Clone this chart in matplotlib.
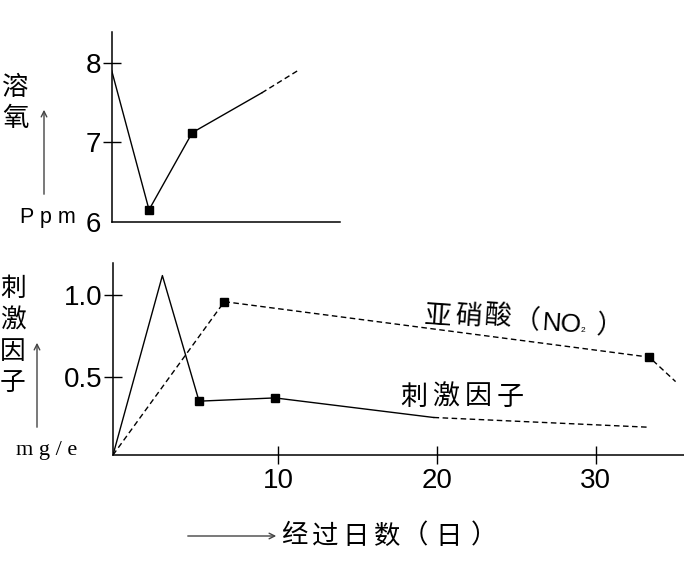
import matplotlib
matplotlib.use("Agg")
import matplotlib.pyplot as plt

plt.rcParams['font.family'] = ['Liberation Sans', 'Noto Sans CJK SC', 'DejaVu Sans']

# ---------------- data ----------------
# dissolved oxygen (ppm), top panel
do_days = [-0.47, 1.88, 4.60, 8.97, 11.24]
do_vals = [7.90, 6.15, 7.12, 7.62, 7.90]
do_solid_n = 4            # first points joined by solid line, rest dashed
do_marker_idx = [1, 2]

# stimulus factor (mg/e), bottom panel
stim_days = [-0.39, 2.72, 5.03, 9.81, 19.8, 33.4]
stim_vals = [0.02, 1.12, 0.35, 0.37, 0.25, 0.19]
stim_solid_n = 5
stim_marker_idx = [2, 3]

# nitrite NO2, bottom panel (all dashed)
no2_days = [-0.39, 6.62, 33.38, 35.04]
no2_vals = [0.02, 0.96, 0.62, 0.47]
no2_marker_idx = [1, 2]

top_yticks = [6, 7, 8]
bot_yticks = [0.5, 1.0]
bot_yticklabels = ['0.5', '1.0']
bot_xticks = [10, 20, 30]

W, H = 684, 570
fig = plt.figure(figsize=(W / 100, H / 100), dpi=100)


def px(x, y):
    return (x / W, 1 - y / H)


def ax_rect(x0, y_top, x1, y_bot):
    return [x0 / W, 1 - y_bot / H, (x1 - x0) / W, (y_bot - y_top) / H]


LW = 1.0
DASH = (0, (4, 2.5))
CJK = ['Noto Sans CJK SC', 'DejaVu Sans']


def style(ax):
    for s in ['top', 'right']:
        ax.spines[s].set_visible(False)
    for s in ['left', 'bottom']:
        ax.spines[s].set_linewidth(1.1)
        ax.spines[s].set_color('black')
    ax.tick_params(direction='inout', length=13, width=1.0, labelsize=20,
                   color='black')
    ax.tick_params(axis='y', pad=1)
    ax.tick_params(axis='x', pad=3)


# ---------- top panel ----------
ax1 = fig.add_axes(ax_rect(111.7, 31.7, 340, 221.7))
style(ax1)
ax1.set_xlim(-0.47, 13.9)
ax1.set_ylim(6.0, 8.39)
ax1.plot(do_days[:do_solid_n], do_vals[:do_solid_n], color='black', lw=LW)
ax1.plot(do_days[do_solid_n - 1:], do_vals[do_solid_n - 1:], color='black',
         lw=LW, linestyle=DASH)
ax1.plot([do_days[i] for i in do_marker_idx], [do_vals[i] for i in do_marker_idx],
         linestyle='none', marker='s', ms=5.5, color='black')
ax1.set_yticks(top_yticks)
ax1.set_yticklabels([str(v) for v in top_yticks])
ax1.set_xticks([])
ax1.yaxis.get_major_ticks()[0].tick1line.set_visible(False)

# ---------- bottom panel ----------
ax2 = fig.add_axes(ax_rect(113, 263, 684, 455))
style(ax2)
ax2.set_xlim(-0.39, 35.57)
ax2.set_ylim(0.02, 1.197)
ax2.plot(stim_days[:stim_solid_n], stim_vals[:stim_solid_n], color='black', lw=LW)
ax2.plot(stim_days[stim_solid_n - 1:], stim_vals[stim_solid_n - 1:], color='black',
         lw=LW, linestyle=DASH)
ax2.plot([stim_days[i] for i in stim_marker_idx], [stim_vals[i] for i in stim_marker_idx],
         linestyle='none', marker='s', ms=5.5, color='black')
ax2.plot(no2_days, no2_vals, color='black', lw=LW, linestyle=DASH)
ax2.plot([no2_days[i] for i in no2_marker_idx], [no2_vals[i] for i in no2_marker_idx],
         linestyle='none', marker='s', ms=5.5, color='black')
ax2.set_yticks(bot_yticks)
ax2.set_yticklabels(bot_yticklabels)
ax2.set_xticks(bot_xticks)
ax2.set_xticklabels([str(v) for v in bot_xticks])


# ---------- annotations ----------
def chars(x0, y, s, pitch, size, **kw):
    for i, c in enumerate(s):
        fig.text(*px(x0 + i * pitch, y), c, ha='center', va='center',
                 fontsize=size, family=CJK, **kw)


def vchars(x, y0, s, pitch, size):
    for i, c in enumerate(s):
        fig.text(*px(x, y0 + i * pitch), c, ha='center', va='center',
                 fontsize=size, family=CJK)


def arrow(x0, y0, x1, y1):
    fig.patches.append(matplotlib.patches.FancyArrowPatch(
        px(x0, y0), px(x1, y1), transform=fig.transFigure,
        arrowstyle='->,head_length=4,head_width=2', color='#444444', lw=1.0,
        mutation_scale=1))


# top-left: 溶氧 / Ppm
vchars(15.5, 87.5, '溶氧', 31.5, 19)
arrow(44, 197, 44, 107)
fig.text(*px(48, 217), 'P p m', ha='center', va='center', fontsize=15.5,
         family=['Liberation Sans'])

# bottom-left: 刺激因子 / mg/e
vchars(13, 289, '刺激因子', 31.3, 18.5)
arrow(37, 430, 37, 340)
fig.text(*px(47, 451), 'm g / e', ha='center', va='center', fontsize=16,
         family=['Liberation Serif'])

# series labels
chars(438, 316, '亚硝酸', 30, 19.5, rotation=-4)
fig.text(*px(527, 322), '（', ha='center', va='center', fontsize=19,
         family=CJK, rotation=-4)
fig.text(*px(562, 324), 'NO', ha='center', va='center', fontsize=19,
         family=['Liberation Sans'], rotation=-4)
fig.text(*px(583, 331), '2', ha='center', va='center', fontsize=6,
         family=['Liberation Sans'])
fig.text(*px(610, 327), '）', ha='center', va='center', fontsize=19,
         family=CJK, rotation=-4)
chars(414, 397, '刺激因子', 32, 19.5)

# x axis label with arrow
arrow(185, 536, 279, 536)
chars(294, 536, '经过日数', 31, 19)
fig.text(*px(415, 536), '（', ha='center', va='center', fontsize=19, family=CJK)
chars(449, 536, '日', 31, 19)
fig.text(*px(484, 536), '）', ha='center', va='center', fontsize=19, family=CJK)

fig.savefig('out.png', dpi=100)
